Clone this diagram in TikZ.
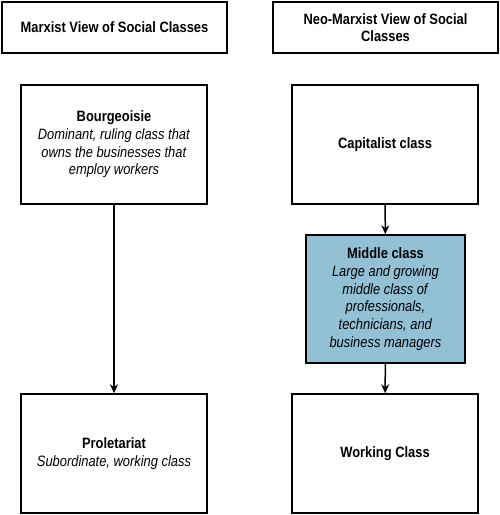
\documentclass[tikz,border=0pt]{standalone}
\usepackage{fontspec}
\setmainfont{Liberation Sans}[FakeStretch=0.86]
\usetikzlibrary{arrows.meta}
\definecolor{midblue}{RGB}{146,193,214}
\begin{document}
\begin{tikzpicture}[x=1pt,y=-1pt,
  box/.style={draw=black,line width=1.5pt,rectangle,inner sep=0pt,
    minimum width=#1,align=center,font=\fontsize{15}{17.7}\selectfont},
  box/.default=186pt,
  arr/.style={line width=1.5pt,-{Stealth[length=9pt,width=8pt]}}]
\useasboundingbox (0,0) rectangle (500,515);
\node[box=225pt,minimum height=51pt] (t1) at (114.5,27.5) {\textbf{Marxist View of Social Classes}};
\node[box=225pt,minimum height=51pt] (t2) at (385.5,27.5) {\textbf{Neo-Marxist View of Social}\\\textbf{Classes}};
\node[box,minimum height=119pt] (bour) at (114,144.5) {\textbf{Bourgeoisie}\\\textit{Dominant, ruling class that}\\\textit{owns the businesses that}\\\textit{employ workers}};
\node[box,minimum height=119pt] (prol) at (114,453.5) {\textbf{Proletariat}\\\textit{Subordinate, working class}};
\node[box,minimum height=119pt] (cap) at (385,144.5) {\textbf{Capitalist class}};
\node[box=159pt,minimum height=128pt,fill=midblue] (mid) at (385.5,299) {\textbf{Middle class}\\\textit{Large and growing}\\\textit{middle class of}\\\textit{professionals,}\\\textit{technicians, and}\\\textit{business managers}};
\node[box,minimum height=119pt] (work) at (385,453.5) {\textbf{Working Class}};
\draw[arr] (bour) -- (prol);
\draw[arr] (cap) -- (mid);
\draw[arr] (mid) -- (work);
\end{tikzpicture}
\end{document}
